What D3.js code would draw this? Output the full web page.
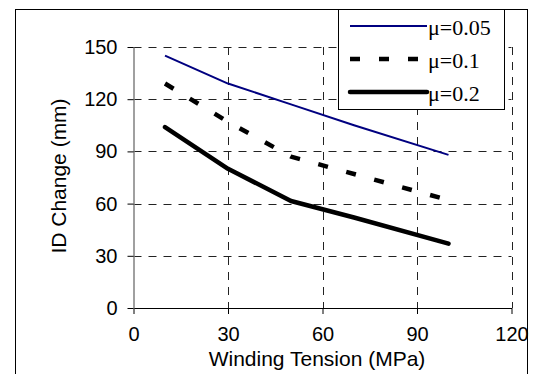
<!DOCTYPE html>
<html>
<head>
<meta charset="utf-8">
<script src="https://cdn.jsdelivr.net/npm/d3@7"></script>
<style>
  body { margin: 0; background: #fff; }
  svg { display: block; }
</style>
</head>
<body>
<div id="chart"></div>
<script>
// data
const tension = [10, 30, 50, 70, 100];
const mu005 = [145, 129, 117, 105, 88];
const mu01 = [129, 107, 87, 77, 62];
const mu02 = [104, 80, 61.5, 52, 37];
const seriesNames = ["\u03bc=0.05", "\u03bc=0.1", "\u03bc=0.2"];
const xTicks = [0, 30, 60, 90, 120];
const yTicks = [0, 30, 60, 90, 120, 150];

const W = 533, H = 374;
const plot = { left: 133.5, right: 511.5, top: 47, bottom: 308 };

const svg = d3.select("#chart").append("svg")
  .attr("width", W)
  .attr("height", H);

var xScale = d3.scaleLinear().domain([0, 120]).range([plot.left, plot.right]);
var yScale = d3.scaleLinear().domain([0, 150]).range([plot.bottom, plot.top]);

// outer frame (bottom edge runs off the picture)
svg.append("rect")
  .attr("x", 15.5).attr("y", 9.5)
  .attr("width", 512).attr("height", 380)
  .style("fill", "none").style("stroke", "#000").style("stroke-width", 1);

// gridlines
svg.append("g").selectAll("line")
  .data(yTicks.slice(1))
  .enter().append("line")
  .attr("x1", plot.left).attr("x2", plot.right)
  .attr("y1", d => Math.round(yScale(d)) + 0.5)
  .attr("y2", d => Math.round(yScale(d)) + 0.5)
  .style("stroke", "#222").style("stroke-dasharray", "8,7");

svg.append("g").selectAll("line")
  .data(xTicks.slice(1))
  .enter().append("line")
  .attr("x1", d => Math.round(xScale(d)) + 0.5)
  .attr("x2", d => Math.round(xScale(d)) + 0.5)
  .attr("y1", plot.top).attr("y2", plot.bottom)
  .style("stroke", "#222").style("stroke-dasharray", "8,7");

// axes
var xAxis = d3.axisBottom(xScale).tickValues(xTicks).tickSize(6).tickSizeOuter(0).tickPadding(13);
var yAxis = d3.axisLeft(yScale).tickValues(yTicks).tickSize(6).tickSizeOuter(0).tickPadding(10);

const gx = svg.append("g")
  .attr("transform", "translate(0," + plot.bottom + ")")
  .call(xAxis);
gx.select(".domain").style("stroke", "#000");
gx.selectAll("line").style("stroke", "#000");
gx.selectAll("text")
  .style("font-family", "Arial, 'Liberation Sans', sans-serif")
  .style("font-size", "20px").style("fill", "#000");

const gy = svg.append("g")
  .attr("transform", "translate(" + plot.left + ",0)")
  .call(yAxis);
gy.select(".domain").style("stroke", "#808080").style("stroke-width", 1.5);
gy.selectAll("line").style("stroke", "#000");
gy.selectAll("text")
  .style("font-family", "Arial, 'Liberation Sans', sans-serif")
  .style("font-size", "20px").style("fill", "#000");

// axis titles
svg.append("text")
  .attr("x", 317).attr("y", 366)
  .attr("text-anchor", "middle")
  .style("font-family", "Arial, 'Liberation Sans', sans-serif")
  .style("font-size", "21px")
  .text("Winding Tension (MPa)");

svg.append("text")
  .attr("transform", "translate(66,176) rotate(-90)")
  .attr("text-anchor", "middle")
  .style("font-family", "Arial, 'Liberation Sans', sans-serif")
  .style("font-size", "21px")
  .text("ID Change (mm)");

// series
const styles = [
  { color: "#000080", width: 2, dash: null, cap: "butt" },
  { color: "#000", width: 4.5, dash: "10,19", cap: "butt" },
  { color: "#000", width: 4.5, dash: null, cap: "round" }
];
const series = [mu005, mu01, mu02];

var line = d3.line()
  .x((d, i) => xScale(tension[i]))
  .y(d => yScale(d));

series.forEach(function (vals, k) {
  svg.append("path")
    .datum(vals)
    .attr("d", line)
    .style("fill", "none")
    .style("stroke", styles[k].color)
    .style("stroke-width", styles[k].width)
    .style("stroke-dasharray", styles[k].dash)
    .style("stroke-linecap", styles[k].cap)
    .style("stroke-linejoin", "round");
});

// legend
const legend = svg.append("g");
legend.append("rect")
  .attr("x", 338.5).attr("y", 9.5)
  .attr("width", 166).attr("height", 100)
  .style("fill", "#fff").style("stroke", "#000");

const rowY = [26, 59, 92];
seriesNames.forEach(function (name, k) {
  legend.append("line")
    .attr("x1", 350).attr("x2", 427)
    .attr("y1", rowY[k]).attr("y2", rowY[k])
    .style("stroke", styles[k].color)
    .style("stroke-width", styles[k].width)
    .style("stroke-dasharray", styles[k].dash)
    .style("stroke-linecap", styles[k].cap);
  legend.append("text")
    .attr("x", 428).attr("y", rowY[k] + 9)
    .style("font-family", "'Times New Roman', 'Liberation Serif', serif")
    .style("font-size", "22px")
    .text(name);
});
</script>
</body>
</html>
